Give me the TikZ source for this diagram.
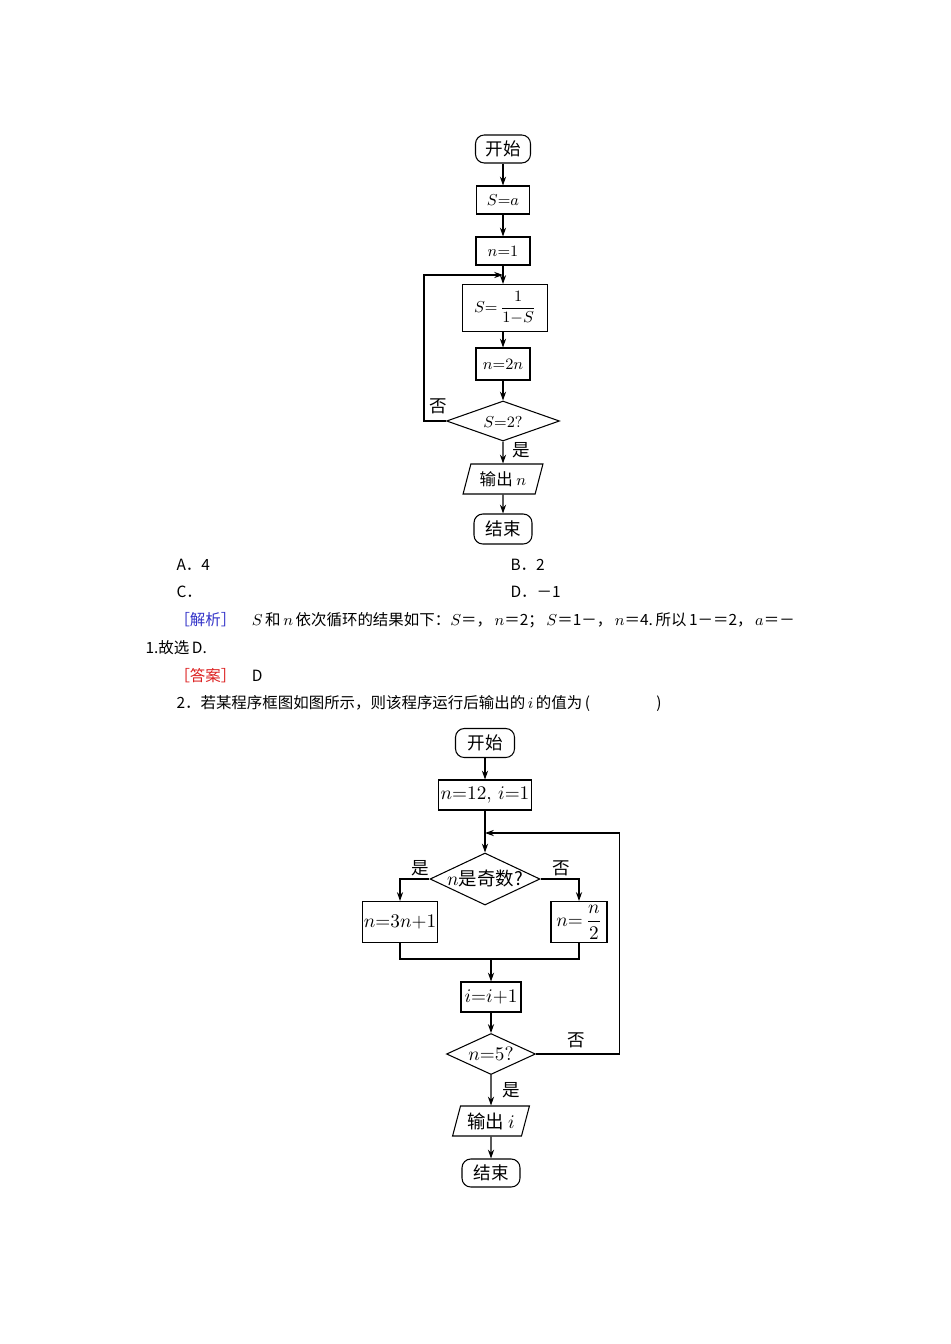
\documentclass[tikz,border=0pt]{standalone}
\usepackage{amsmath}
\usepackage{fontspec}
\usepackage{tikz}
\usetikzlibrary{shapes.geometric,arrows.meta}
\newfontfamily\cjk{Noto Sans CJK SC}
\newcommand{\chartOneSize}[0]{\fontsize{9.4}{11}\selectfont}
\newcommand{\chartTwoSize}[0]{\fontsize{10.5}{12}\selectfont}
\newcommand{\bodySize}[0]{\fontsize{8.8}{10}\selectfont}
\newcommand{\testText}[1]{\makebox[0pt]{#1}}
\definecolor{tagBlue}{RGB}{50,50,200}
\definecolor{tagRed}{RGB}{220,30,30}

\begin{document}
\begin{tikzpicture}[x=0.02cm, y=-0.02cm, line width=0.6pt]
  \tikzset{
    stepbox/.style={draw, rectangle, inner sep=1pt, align=center},
    term/.style={draw, rectangle, rounded corners=5pt, inner sep=1pt, font=\cjk},
    test/.style={draw, diamond, inner sep=0pt, text height=0.72em, text depth=0pt},
    io/.style={draw, trapezium, trapezium left angle=72, trapezium right angle=108,
      trapezium stretches=true, inner sep=1pt},
    flow/.style={-{Stealth[length=5pt,width=3.5pt]}},
    branchtag/.style={font=\cjk, inner sep=0pt},
    textline/.style={anchor=west, inner sep=0pt, font=\cjk\bodySize}
  }
  \useasboundingbox (0,0) rectangle (950,1344);

  \begin{scope}[font=\chartOneSize]
    \node[term, minimum width=1.10cm, minimum height=0.56cm] (start1) at (503,149) {开始};
    \node[stepbox, minimum width=1.06cm, minimum height=0.56cm] (initS) at (503,200) {$S{=}a$};
    \node[stepbox, minimum width=1.08cm, minimum height=0.56cm] (initN) at (503,251) {$n{=}1$};
    \node[stepbox, minimum width=1.70cm, minimum height=0.94cm] (updS) at (505,308) {$S{=}\,\dfrac{1}{1{-}S}$};
    \node[stepbox, minimum width=1.08cm, minimum height=0.64cm] (updN) at (503,364) {$n{=}2n$};
    \node[test, minimum width=2.26cm, minimum height=0.80cm] (testS) at (503,421) {\testText{$S{=}2?$}};
    \node[io, minimum width=1.60cm, minimum height=0.60cm] (out1) at (503,479) {\cjk 输出 $n$};
    \node[term, minimum width=1.16cm, minimum height=0.60cm] (end1) at (503,529) {结束};
    \coordinate (join1) at (503,275);
    \node[branchtag] (no1) at (438,406) {否};
    \node[branchtag] (yes1) at (521,450) {是};
    \draw[flow] (start1) -- (initS);
    \draw[flow] (initS) -- (initN);
    \draw[flow] (initN) -- (initN |- updS.north);
    \draw[flow] (updN |- updS.south) -- (updN);
    \draw[flow] (updN) -- (testS);
    \draw[flow] (testS) -- (out1);
    \draw[flow] (out1) -- (end1);
    \draw[flow] (testS.west) -- ++(-22,0) |- (join1);
  \end{scope}

  \node[textline] (optA) at (176,565) {A．4};
  \node[textline] (optB) at (510,565) {B．2};
  \node[textline] (optC) at (176,592) {C．};
  \node[textline] (optD) at (510,592) {D．－1};
  \node[textline] (analysis) at (174,620) {\textcolor{tagBlue}{［解析］}\quad$S$\,和\,$n$\,依次循环的结果如下：$S$＝，\,$n$＝2；\,$S$＝1－，\,$n$＝4.\,所以\,1－＝2，\,$a$＝－};
  \node[textline] (analysisEnd) at (145,648) {1.故选\,D.};
  \node[textline] (answer) at (174,676) {\textcolor{tagRed}{［答案］}\quad D};
  \node[textline] (question) at (176,703) {2．若某程序框图如图所示，则该程序运行后输出的\,$i$\,的值为\,(\qquad\qquad\;)};

  \begin{scope}[font=\chartTwoSize]
    \node[term, minimum width=1.18cm, minimum height=0.58cm] (start2) at (485,743) {开始};
    \node[stepbox, minimum width=1.72cm, minimum height=0.60cm] (init2) at (485,795) {$n{=}12,\,i{=}1$};
    \node[test, minimum width=2.20cm, minimum height=1.04cm] (oddTest) at (485,879) {\testText{$n$\cjk 是奇数?}};
    \node[stepbox, minimum width=1.36cm, minimum height=0.82cm] (oddYes) at (400,922) {$n{=}3n{+}1$};
    \node[stepbox, minimum width=1.12cm, minimum height=0.82cm] (oddNo) at (579,922) {$n{=}\,\dfrac{n}{2}$};
    \coordinate (merge) at (491,959);
    \node[stepbox, minimum width=1.20cm, minimum height=0.60cm] (incr) at (491,997) {$i{=}i{+}1$};
    \node[test, minimum width=1.78cm, minimum height=0.82cm] (stopTest) at (491,1054) {\testText{$n{=}5?$}};
    \node[io, minimum width=1.54cm, minimum height=0.60cm] (out2) at (491,1121) {\cjk 输出 $i$};
    \node[term, minimum width=1.16cm, minimum height=0.56cm] (end2) at (491,1173) {结束};
    \coordinate (join2) at (485,833);
    \node[branchtag] (yes2) at (420,868) {是};
    \node[branchtag] (no2) at (561,868) {否};
    \node[branchtag] (no3) at (576,1040) {否};
    \node[branchtag] (yes3) at (511,1090) {是};
    \draw[flow] (start2) -- (init2);
    \draw[flow] (init2) -- (oddTest);
    \draw[flow] (oddTest.west) -| (oddYes.north);
    \draw[flow] (oddTest.east) -| (oddNo.north);
    \draw (oddYes.south) |- (merge) -| (oddNo.south);
    \draw[flow] (merge) -- (incr);
    \draw[flow] (incr) -- (stopTest);
    \draw[flow] (stopTest) -- (out2);
    \draw[flow] (out2) -- (end2);
    \draw[flow] (stopTest.east) -- ++(83,0) |- (join2);
  \end{scope}
\end{tikzpicture}
\end{document}
